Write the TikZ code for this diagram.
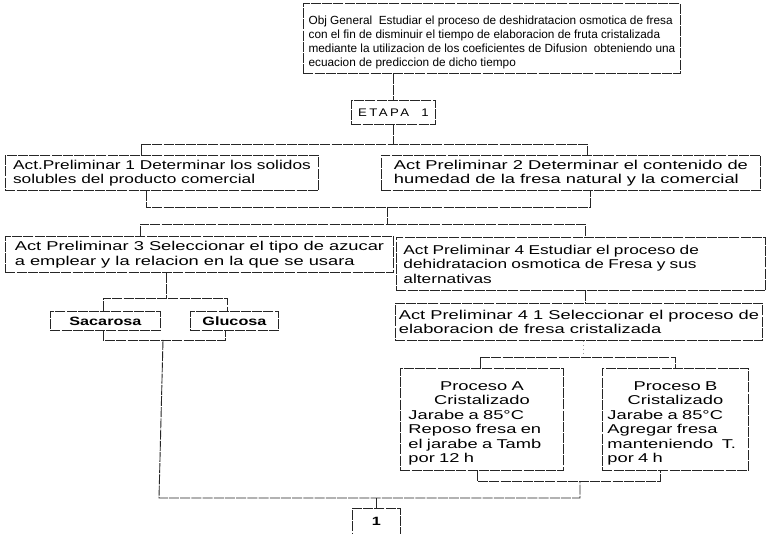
\documentclass[tikz,border=0pt]{standalone}
\usepackage{fontspec}
\setmainfont{Liberation Sans}
\newfontfamily\widefont[FakeStretch=1.35]{Liberation Sans}
\newfontfamily\widerfont[FakeStretch=1.43]{Liberation Sans}
\newfontfamily\etapafont[FakeStretch=1.2,LetterSpace=22]{Liberation Sans}
\begin{document}
\begin{tikzpicture}[x=1pt,y=-1pt,
  ln/.style={draw=black!85, line width=0.9pt, dash pattern=on 10pt off 1.2pt},
  box/.style={ln, rectangle, anchor=north west, inner sep=0pt, align=left,
    font=\widefont\fontsize{12.8}{14.5}\selectfont},
  wbox/.style={box, font=\widerfont\fontsize{12.8}{14.5}\selectfont},
  cbox/.style={box, align=center, font=\widefont\bfseries\fontsize{12}{14}\selectfont},
]
\useasboundingbox (0,0) rectangle (768,534);
\fill[white] (0,0) rectangle (768,534);

% nodes
\node[box, minimum width=377, minimum height=70,
  font=\normalfont\fontsize{11.8}{14}\selectfont] (top) at (303,3)
  {\rule{0pt}{17pt}Obj General~ Estudiar el proceso de deshidratacion osmotica de fresa\\
   con el fin de disminuir el tiempo de elaboracion de fruta cristalizada\\
   mediante la utilizacion de los coeficientes de Difusion~ obteniendo una\\
   ecuacion de prediccion de dicho tiempo};
\node[box, minimum width=84, minimum height=24, align=center,
  font=\etapafont\fontsize{11}{13}\selectfont] (etapa) at (351,100) {ETAPA~ 1};
\node[box, minimum width=313, minimum height=35] (act1) at (5,155)
  {Act.Preliminar 1 Determinar los solidos\\solubles del producto comercial};
\node[wbox, minimum width=379, minimum height=35] (act2) at (381,155)
  {Act Preliminar 2 Determinar el contenido de\\humedad de la fresa natural y la comercial};
\node[wbox, minimum width=388, minimum height=36] (act3) at (5,236)
  {Act Preliminar 3 Seleccionar el tipo de azucar\\a emplear y la relacion en la que se usara};
\node[box, minimum width=369, minimum height=53, text width=355] (act4) at (396,237)
  {Act Preliminar 4 Estudiar el proceso de\\dehidratacion osmotica de Fresa y sus\\alternativas};
\node[wbox, minimum width=367, minimum height=37] (act41) at (395,303)
  {Act Preliminar 4 1 Seleccionar el proceso de\\elaboracion de fresa cristalizada};
\node[cbox, minimum width=110, minimum height=19] (sac) at (50,311) {Sacarosa};
\node[cbox, minimum width=88, minimum height=19] (glu) at (190,311) {Glucosa};
\node[wbox, minimum width=163, minimum height=102, text width=147] (procA) at (400,368)
  {\rule{0pt}{17pt}\hfill Proceso A\hfill\null\\\hfill Cristalizado\hfill\null\\Jarabe a 85°C\\Reposo fresa en\\el jarabe a Tamb\\por 12 h};
\node[wbox, minimum width=146, minimum height=102, text width=136] (procB) at (602,368)
  {\rule{0pt}{17pt}\hfill Proceso B\hfill\null\\\hfill Cristalizado\hfill\null\\Jarabe a 85°C\\Agregar fresa\\manteniendo~ T.\\por 4 h};
\node[cbox, minimum width=48, minimum height=25.5] (one) at (352,508) {1};

% junction coordinates
\coordinate (j1l) at (141,144); \coordinate (j1r) at (587,144);
\coordinate (j2l) at (146,207); \coordinate (j2r) at (590,207); \coordinate (j2m) at (387,207);
\coordinate (j3l) at (140,224); \coordinate (j3r) at (585,224);
\coordinate (x585) at (585,0);
\coordinate (j4m) at (166,298); \coordinate (j4l) at (103,298); \coordinate (j4r) at (227,298);
\coordinate (j5l) at (103,340); \coordinate (j5r) at (225,340); \coordinate (j5m) at (163,340);
\coordinate (j6l) at (159,498); \coordinate (j6r) at (580,498);
\coordinate (j7m) at (580,481); \coordinate (j7l) at (477,481); \coordinate (j7r) at (660,481);
\coordinate (j8m) at (583,357); \coordinate (j8l) at (480,357); \coordinate (j8r) at (675,357);

% connectors
\draw[ln] (top.south -| etapa.north) -- (etapa.north);
\draw[ln] (etapa.south) -- (etapa.south |- j1l);
\draw[ln] (act1.north -| j1l) -- (j1l) -- (j1r) -- (act2.north -| j1r);
\draw[ln] (act1.south -| j2l) -- (j2l) -- (j2r) -- (act2.south -| j2r);
\draw[ln] (j2m) -- (j2m |- j3l);
\draw[ln] (act3.north -| j3l) -- (j3l) -- (j3r) -- (act4.north -| j3r);
\draw[ln] (act4.south -| x585) -- (act41.north -| x585);
\draw[ln] (act3.south -| j4m) -- (j4m);
\draw[ln] (sac.north -| j4l) -- (j4l) -- (j4r) -- (glu.north -| j4r);
\draw[ln] (sac.south -| j5l) -- (j5l) -- (j5r) -- (glu.south -| j5r);
\draw[ln] (j5m) -- (j6l) -- (j6r) -- (j7m);
\draw[ln] (procA.south -| j7l) -- (j7l) -- (j7r) -- (procB.south -| j7r);
\draw[ln] (one.north) -- (one.north |- j6l);
\draw[draw=black!40, line width=0.5pt, dash pattern=on 1pt off 3pt] (act41.south -| j8m) -- (j8m);
\draw[ln] (procA.north -| j8l) -- (j8l) -- (j8r) -- (procB.north -| j8r);
\end{tikzpicture}
\end{document}
